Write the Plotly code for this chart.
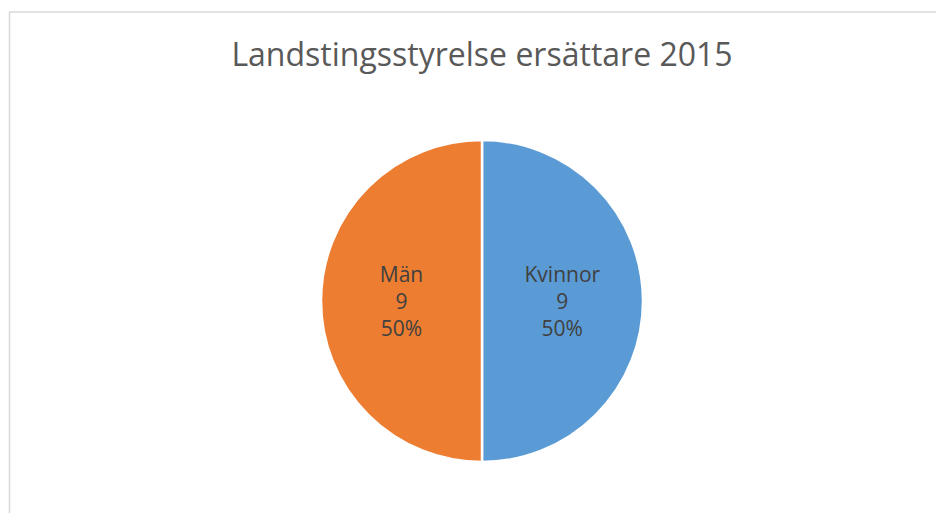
import plotly.graph_objects as go

labels = ["Kvinnor", "Män"]
values = [9, 9]
colors = ["#5B9BD5", "#ED7D31"]
title = "Landstingsstyrelse ersättare 2015"

# the page puts the figure 8px in from the top-left corner
off = 8
W, H = 944 - off, 513 - off
cx, cy, r = 482 - off, 301 - off, 161

fig = go.Figure(go.Pie(
    labels=labels,
    values=values,
    sort=False,
    direction="clockwise",
    rotation=0,
    marker=dict(colors=colors, line=dict(color="white", width=2.5)),
    texttemplate="%{label}<br>%{value}<br>%{percent:.0%}",
    textposition="inside",
    insidetextorientation="horizontal",
    textfont=dict(family="Open Sans", size=21, color="#404040"),
    hoverinfo="label+value+percent",
    showlegend=False,
    domain=dict(x=[(cx - r) / W, (cx + r) / W], y=[(H - cy - r) / H, (H - cy + r) / H]),
))

fig.update_layout(
    width=W, height=H,
    margin=dict(l=0, r=0, t=0, b=0),
    paper_bgcolor="white",
    title=dict(text=title, x=cx / W, y=1 - (55 - off) / H, xanchor="center", yanchor="middle",
               font=dict(family="Open Sans", size=32, color="#595959")),
    shapes=[dict(type="rect", xref="paper", yref="paper",
                 x0=(9.5 - off) / W, x1=1.05, y0=-0.05, y1=1 - (12 - off) / H,
                 line=dict(color="#D9D9D9", width=1.5))],
)

fig.write_html("out.html")
